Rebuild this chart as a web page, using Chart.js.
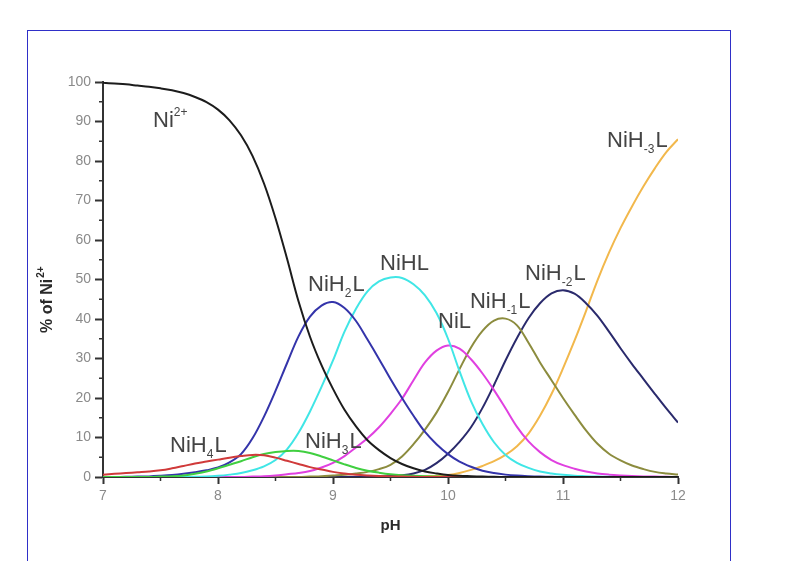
<!DOCTYPE html>
<html><head><meta charset="utf-8">
<script src="https://cdn.jsdelivr.net/npm/chart.js@4"></script>
<style>html,body{margin:0;padding:0;background:#fff}canvas{display:block}</style>
</head><body>
<canvas id="c" width="787" height="561"></canvas>
<script>
// pH grid (x values)
const pH = [7.0,7.1,7.2,7.3,7.4,7.5,7.6,7.7,7.8,7.9,
            8.0,8.1,8.2,8.3,8.4,8.5,8.6,8.7,8.8,8.9,
            9.0,9.1,9.2,9.3,9.4,9.5,9.6,9.7,9.8,9.9,
            10.0,10.1,10.2,10.3,10.4,10.5,10.6,10.7,10.8,10.9,
            11.0,11.1,11.2,11.3,11.4,11.5,11.6,11.7,11.8,11.9,
            12.0];

// % of Ni2+ for each species
const Ni = [99.8,99.6,99.4,99.1,98.8,98.4,97.9,97.2,96.2,94.9,
            93.0,90.3,86.5,81.3,74.3,65.5,55.3,44.5,35.5,28.3,
            22.3,17.0,12.8,9.3,6.8,4.8,3.3,2.2,1.4,0.9,
            0.5,0.3,0.2,0.1,0.05,0,0,0,0,0,
            0,0,0,0,0,0,0,0,0,0,
            0];
const NiH4L = [0.6,0.8,1.0,1.2,1.4,1.7,2.2,2.8,3.4,3.9,
               4.4,4.9,5.3,5.6,5.5,4.9,4.1,3.3,2.5,1.9,
               1.3,0.9,0.6,0.4,0.25,0.15,0.1,0.05,0,0,
               0,0,0,0,0,0,0,0,0,0,
               0,0,0,0,0,0,0,0,0,0,
               0];
const NiH3L = [0,0,0,0,0,0.1,0.2,0.4,0.8,1.4,
               2.2,3.1,4.0,5.0,5.8,6.3,6.6,6.6,6.1,5.2,
               4.2,3.2,2.3,1.6,1.1,0.7,0.45,0.3,0.2,0.1,
               0.05,0,0,0,0,0,0,0,0,0,
               0,0,0,0,0,0,0,0,0,0,
               0];
const NiH2L = [0,0,0.05,0.1,0.15,0.3,0.5,0.8,1.2,1.7,
               2.4,3.7,5.8,9.8,15.3,21.8,28.8,35.6,40.6,43.4,
               44.3,42.8,39.5,34.8,29.9,24.8,20.0,15.5,11.4,8.3,
               5.8,3.9,2.6,1.6,1.0,0.6,0.35,0.2,0.1,0.05,
               0,0,0,0,0,0,0,0,0,0,
               0];
const NiHL = [0,0,0,0,0,0,0,0,0.05,0.1,
              0.3,0.6,1.0,1.7,2.7,4.3,7.0,11.2,16.6,22.8,
              29.5,36.8,42.6,47.0,49.5,50.5,50.4,48.8,46.0,41.5,
              35.0,26.8,19.2,13.4,8.8,5.6,3.6,2.3,1.4,0.9,
              0.55,0.3,0.2,0.1,0.05,0,0,0,0,0,
              0];
const NiL = [0,0,0,0,0,0,0,0,0,0,
             0,0,0,0.1,0.2,0.4,0.7,1.0,1.5,2.4,
             3.6,5.3,7.5,9.8,12.6,16.0,19.8,24.5,29.0,32.0,
             33.3,32.5,29.8,26.2,22.0,17.4,12.7,9.0,6.3,4.3,
             3.0,2.1,1.4,0.9,0.6,0.4,0.25,0.15,0.1,0.05,
             0];
const NiHm1L = [0,0,0,0,0,0,0,0,0,0,
                0,0,0,0,0,0,0,0,0.1,0.2,
                0.4,0.6,0.9,1.3,2.0,3.1,5.2,8.3,12.0,16.3,
                21.5,27.3,32.8,37.0,39.6,40.1,38.4,34.0,29.0,24.5,
                20.0,15.8,11.8,8.4,5.9,4.2,2.9,2.0,1.3,0.9,
                0.6];
const NiHm2L = [0,0,0,0,0,0,0,0,0,0,
                0,0,0,0,0,0,0,0,0,0,
                0,0,0,0.1,0.15,0.25,0.45,0.9,1.8,3.5,
                5.9,8.9,12.6,17.5,23.3,29.5,35.2,40.2,44.0,46.5,
                47.3,46.4,44.0,40.8,36.8,32.6,28.6,24.8,21.0,17.3,
                13.8];
const NiHm3L = [0,0,0,0,0,0,0,0,0,0,
                0,0,0,0,0,0,0,0,0,0,
                0,0,0,0,0,0,0,0.1,0.2,0.3,
                0.5,1.0,1.8,2.8,4.0,5.6,7.8,11.0,15.5,21.0,
                27.5,34.5,42.0,49.8,56.8,63.0,68.5,73.6,78.2,82.3,
                85.5];

// axis settings
const xMin = 7, xMax = 12, xStep = 1;
const yMin = 0, yMax = 100, yStep = 10;
const xTitle = 'pH';

const series = [
  {name:'Ni2+',   values:Ni,     color:'#1c1c1c'},
  {name:'NiH4L',  values:NiH4L,  color:'#d03a3a'},
  {name:'NiH3L',  values:NiH3L,  color:'#40cf40'},
  {name:'NiH2L',  values:NiH2L,  color:'#3434aa'},
  {name:'NiHL',   values:NiHL,   color:'#40e6e6'},
  {name:'NiL',    values:NiL,    color:'#e040e0'},
  {name:'NiH-1L', values:NiHm1L, color:'#8c8c3e'},
  {name:'NiH-2L', values:NiHm2L, color:'#2a2a6c'},
  {name:'NiH-3L', values:NiHm3L, color:'#f2b84c'}
];

// curve labels: [main/sub parts], anchored in data coordinates
const curveLabels = [
  {x:7.435, y:88.6, parts:[['Ni','n'],['2+','sup']]},
  {x:7.583, y:6.3,  parts:[['NiH','n'],['4','sub'],['L','n']]},
  {x:8.757, y:7.3,  parts:[['NiH','n'],['3','sub'],['L','n']]},
  {x:8.783, y:47.1, parts:[['NiH','n'],['2','sub'],['L','n']]},
  {x:9.409, y:52.4, parts:[['NiHL','n']]},
  {x:9.913, y:37.7, parts:[['NiL','n']]},
  {x:10.191,y:42.8, parts:[['NiH','n'],['-1','sub'],['L','n']]},
  {x:10.670,y:49.9, parts:[['NiH','n'],['-2','sub'],['L','n']]},
  {x:11.383,y:83.5, parts:[['NiH','n'],['-3','sub'],['L','n']]}
];

const FONT = '"Liberation Sans", Arial, sans-serif';

const framePlugin = {
  id:'frame',
  beforeDraw(chart){
    const c = chart.ctx;
    c.save();
    c.fillStyle = '#fff';
    c.fillRect(0,0,chart.width,chart.height);
    c.strokeStyle = '#2f2fc8';
    c.lineWidth = 1;
    c.strokeRect(27.5,30.5,703,620);
    c.restore();
  }
};

const minorTicksPlugin = {
  id:'minorTicks',
  afterDraw(chart){
    const c = chart.ctx;
    c.save();
    c.strokeStyle = '#333';
    c.lineWidth = 1.5;
    const xs = chart.scales.x, ys = chart.scales.y;
    const xt = xs.ticks.map(t=>t.value), yt = ys.ticks.map(t=>t.value);
    for (let i=0;i<xt.length-1;i++){
      const px = xs.getPixelForValue((xt[i]+xt[i+1])/2);
      c.beginPath(); c.moveTo(px, xs.top); c.lineTo(px, xs.top+4); c.stroke();
    }
    for (let i=0;i<yt.length-1;i++){
      const py = ys.getPixelForValue((yt[i]+yt[i+1])/2);
      c.beginPath(); c.moveTo(ys.right, py); c.lineTo(ys.right-4, py); c.stroke();
    }
    // axis titles
    c.fillStyle = '#2a2a2a';
    c.textBaseline = 'alphabetic';
    c.font = 'bold 15px ' + FONT;
    c.textAlign = 'center';
    c.fillText(xTitle, (xs.left+xs.right)/2, 530);
    c.textAlign = 'left';
    c.translate(52, 333);
    c.rotate(-Math.PI/2);
    c.font = 'bold 16px ' + FONT;
    const main = '% of Ni';
    c.fillText(main, 0, 0);
    const w = c.measureText(main).width;
    c.font = 'bold 10px ' + FONT;
    c.fillText('2+', w + 1, -8);
    c.restore();
  }
};

const labelsPlugin = {
  id:'curveLabels',
  afterDatasetsDraw(chart){
    const c = chart.ctx;
    const xs = chart.scales.x, ys = chart.scales.y;
    c.save();
    c.fillStyle = '#444';
    c.textBaseline = 'alphabetic';
    c.textAlign = 'left';
    curveLabels.forEach(l=>{
      let x = xs.getPixelForValue(l.x);
      const y = ys.getPixelForValue(l.y);
      l.parts.forEach(([t,k])=>{
        let dy = 0;
        if (k==='n'){ c.font = '22px ' + FONT; }
        else { c.font = '12px ' + FONT; dy = (k==='sub') ? 6 : -11; }
        c.fillText(t, x, y+dy);
        x += c.measureText(t).width + (k==='n' ? 0 : 1);
      });
    });
    c.restore();
  }
};

new Chart(document.getElementById('c').getContext('2d'), {
  type:'line',
  data:{
    datasets: series.map(s=>({
      label:s.name,
      data:pH.map((x,i)=>({x:x, y:s.values[i]})),
      borderColor:s.color,
      backgroundColor:s.color,
      borderWidth:2,
      pointRadius:0,
      fill:false,
      tension:0.35
    }))
  },
  options:{
    responsive:false,
    animation:false,
    layout:{padding:{left:0, right:109, top:82, bottom:44}},
    plugins:{legend:{display:false}, tooltip:{enabled:false}},
    scales:{
      x:{
        type:'linear', min:xMin, max:xMax,
        afterFit(s){ s.height = 40; },
        ticks:{stepSize:xStep, padding:4, color:'#8a8a8a', font:{family:FONT, size:14}, maxRotation:0},
        grid:{drawOnChartArea:false, tickLength:7, tickColor:'#333', tickWidth:2},
        border:{color:'#333', width:2}
      },
      y:{
        min:yMin, max:yMax,
        afterFit(s){ s.width = 103; },
        ticks:{stepSize:yStep, padding:4, color:'#8a8a8a', font:{family:FONT, size:14}},
        grid:{drawOnChartArea:false, tickLength:8, tickColor:'#333', tickWidth:2},
        border:{color:'#333', width:2}
      }
    }
  },
  plugins:[framePlugin, minorTicksPlugin, labelsPlugin]
});
</script>
</body></html>
